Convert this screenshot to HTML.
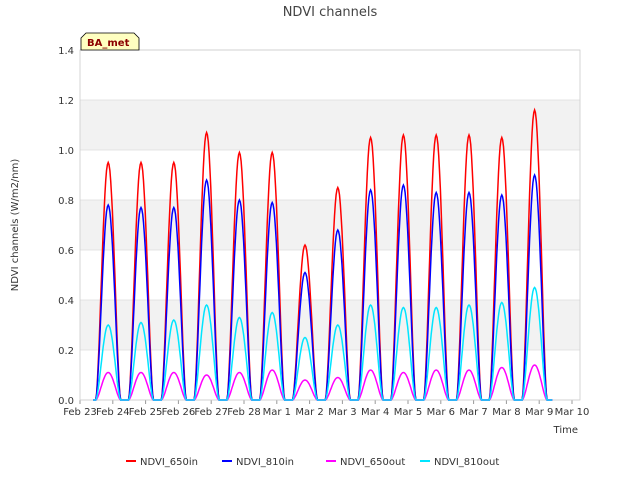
<!DOCTYPE html>
<html><head><meta charset="utf-8"><style>
body{margin:0;background:#fff;font-family:"Liberation Sans","DejaVu Sans",sans-serif}
</style></head><body>
<svg id="chart" width="640" height="480" xmlns="http://www.w3.org/2000/svg" font-family="DejaVu Sans, Liberation Sans, sans-serif">
<rect width="640" height="480" fill="#fff"/>
<text x="330" y="16" text-anchor="middle" font-size="13" fill="#444">NDVI channels</text>
<g id="plot"></g>
<text transform="translate(18,225) rotate(-90)" text-anchor="middle" font-size="10" fill="#333">NDVI channels (W/m2/nm)</text>
<text x="578" y="433" text-anchor="end" font-size="10" fill="#333">Time</text>
<g>
<path d="M81,50 L81,38 L86,33 L134,33 L139,38 L139,50 Z" fill="#ffffc0" stroke="#000" stroke-width="0.8"/>
<text x="87" y="46" font-size="10" font-weight="bold" fill="#8b0000">BA_met</text>
</g>
<g id="legend"></g>
</svg>
<script>
const categories=["Feb 23","Feb 24","Feb 25","Feb 26","Feb 27","Feb 28","Mar 1","Mar 2","Mar 3","Mar 4","Mar 5","Mar 6","Mar 7","Mar 8","Mar 9","Mar 10"];
const yTicks=[0.0,0.2,0.4,0.6,0.8,1.0,1.2,1.4];
const ndvi650in=[0.95,0.95,0.95,1.07,0.99,0.99,0.62,0.85,1.05,1.06,1.06,1.06,1.05,1.16];
const ndvi810in=[0.78,0.77,0.77,0.88,0.80,0.79,0.51,0.68,0.84,0.86,0.83,0.83,0.82,0.90];
const ndvi650out=[0.11,0.11,0.11,0.10,0.11,0.12,0.08,0.09,0.12,0.11,0.12,0.12,0.13,0.14];
const ndvi810out=[0.30,0.31,0.32,0.38,0.33,0.35,0.25,0.30,0.38,0.37,0.37,0.38,0.39,0.45];
const seriesNames=["NDVI_650in","NDVI_810in","NDVI_650out","NDVI_810out"];
const colors=["#ff0000","#0000ff","#ff00ff","#00e5ff"];
const L=80,R=580,T=50,B=400,ymax=1.4,nd=15;
const dayW=(572-80)/nd;
const xs=d=>L+d*dayW;
const ys=v=>B-v/ymax*(B-T);
const NS="http://www.w3.org/2000/svg";
const plot=document.getElementById('plot');
function mk(tag,attrs,parent){const e=document.createElementNS(NS,tag);for(const k in attrs)e.setAttribute(k,attrs[k]);(parent||plot).appendChild(e);return e;}
mk('rect',{x:L,y:T,width:R-L,height:B-T,fill:'#fff'});
for(let i=0;i<yTicks.length-1;i++){
  if(i%2==1){const b=mk('rect',{x:L,y:ys(yTicks[i+1]),width:R-L,height:ys(yTicks[i])-ys(yTicks[i+1]),fill:'#f2f2f2'});
  
  }
}
yTicks.forEach(v=>{
  mk('line',{x1:L,x2:R,y1:ys(v),y2:ys(v),stroke:'#ddd','stroke-width':0.8});
  const t=mk('text',{x:L-6,y:ys(v)+4,'text-anchor':'end','font-size':10,fill:'#333'});t.textContent=v.toFixed(1);
  
  
});
categories.forEach((c,i)=>{
  mk('line',{x1:xs(i),x2:xs(i),y1:B,y2:B+4,stroke:'#999'});
  const t=mk('text',{x:xs(i),y:B+15,'text-anchor':'middle','font-size':10,fill:'#333'});t.textContent=c;
  
  
});
mk('rect',{x:L,y:T,width:R-L,height:B-T,fill:'none',stroke:'#ccc','stroke-width':0.8});
const all=[ndvi650in,ndvi810in,ndvi650out,ndvi810out];
all.forEach((arr,si)=>{
  let d="M"+xs(0.4)+","+ys(0);
  arr.forEach((p,di)=>{
    const c=di+0.86,hw=0.38;
    d+=" L"+xs(c-hw).toFixed(1)+","+ys(0).toFixed(1);
    for(let k=0;k<=30;k++){const f=k/30;const x=c-hw+2*hw*f;const v=p*Math.pow(Math.sin(Math.PI*f),1.6);d+=" L"+xs(x).toFixed(1)+","+ys(v).toFixed(1);}
  });
  d+=" L"+xs(14.4)+","+ys(0);
  const path=mk('path',{d:d,fill:'none',stroke:colors[si],'stroke-width':1.5});
  
  
});
const lg=document.getElementById('legend');
const lx=[126,222,326,420];
seriesNames.forEach((n,i)=>{
  const g=mk('g',{},lg);
  
  
  mk('line',{x1:lx[i],x2:lx[i]+10,y1:461,y2:461,stroke:colors[i],'stroke-width':2},g);
  const t=mk('text',{x:lx[i]+14,y:465,'font-size':10,fill:'#333'},g);t.textContent=n;
});
</script>
</body></html>
